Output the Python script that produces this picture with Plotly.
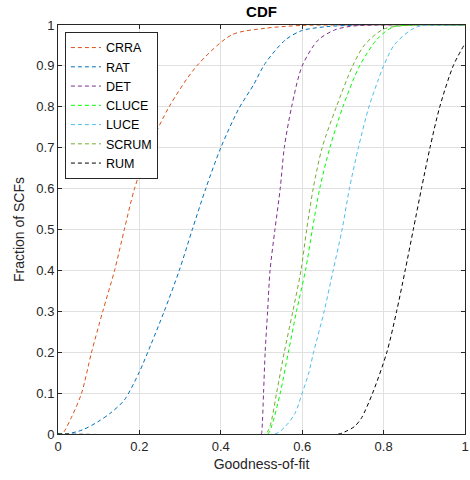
import plotly.graph_objects as go

# ---- data ----
crra_x = [0, 0.01, 0.035, 0.058, 0.082, 0.11, 0.139, 0.163, 0.188, 0.224, 0.273, 0.341, 0.427, 0.509, 0.6, 0.7, 1]
crra_y = [0, 0, 0.045, 0.10, 0.198, 0.30, 0.40, 0.50, 0.60, 0.70, 0.80, 0.90, 0.976, 0.992, 0.999, 1, 1]

rat_x = [0, 0.02, 0.06, 0.098, 0.13, 0.163, 0.2, 0.228, 0.261, 0.298, 0.33, 0.363, 0.40, 0.444, 0.48, 0.509, 0.558, 0.598, 0.66, 0.75, 1]
rat_y = [0, 0, 0.01, 0.03, 0.052, 0.083, 0.152, 0.218, 0.30, 0.40, 0.50, 0.60, 0.70, 0.795, 0.853, 0.906, 0.963, 0.986, 0.996, 1, 1]

det_x = [0, 0.499, 0.501, 0.505, 0.509, 0.515, 0.521, 0.533, 0.546, 0.556, 0.574, 0.60, 0.639, 0.68, 0.72, 0.78, 1]
det_y = [0, 0, 0.01, 0.10, 0.20, 0.30, 0.40, 0.50, 0.60, 0.70, 0.80, 0.90, 0.963, 0.988, 0.997, 1, 1]

cluce_x = [0, 0.515, 0.525, 0.546, 0.566, 0.586, 0.608, 0.625, 0.643, 0.668, 0.70, 0.741, 0.782, 0.81, 0.83, 0.875, 1]
cluce_y = [0, 0, 0.02, 0.10, 0.20, 0.30, 0.40, 0.50, 0.60, 0.70, 0.80, 0.90, 0.963, 0.988, 0.997, 1, 1]

luce_x = [0, 0.533, 0.558, 0.582, 0.60, 0.616, 0.628, 0.654, 0.676, 0.698, 0.716, 0.738, 0.764, 0.785, 0.80, 0.826, 0.867, 0.89, 0.93, 1]
luce_y = [0, 0, 0.018, 0.05, 0.10, 0.149, 0.20, 0.30, 0.40, 0.50, 0.60, 0.70, 0.80, 0.861, 0.90, 0.951, 0.988, 0.998, 1, 1]

scrum_x = [0, 0.509, 0.521, 0.537, 0.556, 0.577, 0.597, 0.611, 0.627, 0.649, 0.684, 0.724, 0.753, 0.80, 0.875, 1]
scrum_y = [0, 0, 0.02, 0.10, 0.20, 0.30, 0.40, 0.50, 0.60, 0.70, 0.80, 0.90, 0.951, 0.99, 1, 1]

rum_x = [0, 0.69, 0.704, 0.728, 0.745, 0.773, 0.808, 0.832, 0.853, 0.873, 0.893, 0.914, 0.938, 0.971, 1]
rum_y = [0, 0, 0.005, 0.018, 0.038, 0.10, 0.20, 0.30, 0.40, 0.50, 0.60, 0.70, 0.80, 0.90, 0.955]

names = ["CRRA", "RAT", "DET", "CLUCE", "LUCE", "SCRUM", "RUM"]
colors = ["#D95319", "#0072BD", "#7E2F8E", "#00FF00", "#4DBEEE", "#77AC30", "#000000"]
xs = [crra_x, rat_x, det_x, cluce_x, luce_x, scrum_x, rum_x]
ys = [crra_y, rat_y, det_y, cluce_y, luce_y, scrum_y, rum_y]

x_ticks = [0, 0.2, 0.4, 0.6, 0.8, 1]
x_ticklabels = ["0", "0.2", "0.4", "0.6", "0.8", "1"]
y_ticks = [0, 0.1, 0.2, 0.3, 0.4, 0.5, 0.6, 0.7, 0.8, 0.9, 1]
y_ticklabels = ["0", "0.1", "0.2", "0.3", "0.4", "0.5", "0.6", "0.7", "0.8", "0.9", "1"]

FONT = "Liberation Sans, Arial, Helvetica, sans-serif"
AX = "#262626"

fig = go.Figure()
for n, c, x, y in zip(names, colors, xs, ys):
    fig.add_trace(go.Scatter(
        x=x, y=y, name=n, mode="lines",
        line=dict(color=c, width=1, dash="4px,3px", shape="spline", smoothing=0.8),
    ))

axis_common = dict(
    showline=True, linecolor=AX, linewidth=1, mirror="allticks",
    ticks="inside", ticklen=4, tickcolor=AX, tickwidth=1,
    showgrid=True, gridcolor="#E0E0E0", gridwidth=1,
    zeroline=False, range=[0, 1], ticklabeloverflow="allow", automargin=False,
    tickfont=dict(family=FONT, size=13, color=AX),
)

fig.update_layout(
    width=470, height=480,
    margin=dict(l=58, r=5, t=25, b=46, autoexpand=False),
    paper_bgcolor="white", plot_bgcolor="white",
    title=dict(text="<b>CDF</b>", x=(58 + 465) / 2 / 470, xanchor="center",
               y=1 - 12 / 480, yanchor="middle", yref="container",
               font=dict(family=FONT, size=15, color="#000000")),
    xaxis=dict(axis_common, tickvals=x_ticks, ticktext=x_ticklabels,
               title=dict(text="Goodness-of-fit", standoff=6,
                          font=dict(family=FONT, size=14, color=AX))),
    yaxis=dict(axis_common, tickvals=y_ticks, ticktext=y_ticklabels,
               title=dict(text="Fraction of SCFs", standoff=8,
                          font=dict(family=FONT, size=14, color=AX))),
    legend=dict(x=0.017, y=0.983, xanchor="left", yanchor="top",
                bgcolor="white", bordercolor=AX, borderwidth=1,
                font=dict(family=FONT, size=12.5, color="#000000"),
                tracegroupgap=0, itemwidth=30),
    showlegend=True,
)

fig.write_html("out.html")
